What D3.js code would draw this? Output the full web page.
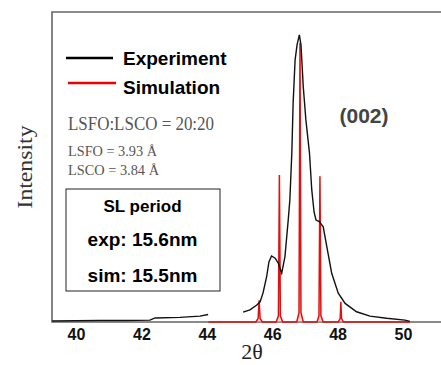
<!DOCTYPE html>
<html>
<head>
<meta charset="utf-8">
<script src="https://cdn.jsdelivr.net/npm/d3@7"></script>
<style>
  body { margin: 0; background: #fff; }
  svg { display: block; }
</style>
</head>
<body>
<div id="chart"></div>
<script>
// experiment curve, two segments (gap between 44 and 45)
var expX1 = [39.27, 40.0, 40.73, 41.5, 42.26, 42.42, 43.18, 43.79, 44.04];
var expY1 = [0.003, 0.004, 0.005, 0.005, 0.006, 0.013, 0.015, 0.019, 0.024];
var expX2 = [45.11, 45.32, 45.53, 45.63, 45.72, 45.83, 45.90, 45.98, 46.09, 46.19, 46.29, 46.39, 46.49, 46.54, 46.60, 46.64, 46.70, 46.76, 46.83, 46.88, 46.95, 47.03, 47.14, 47.21, 47.28, 47.34, 47.44, 47.56, 47.67, 47.82, 48.02, 48.23, 48.58, 48.99, 49.50, 50.06, 50.21];
var expY2 = [0.032, 0.039, 0.055, 0.065, 0.094, 0.146, 0.194, 0.213, 0.206, 0.189, 0.157, 0.211, 0.329, 0.394, 0.545, 0.706, 0.845, 0.894, 0.926, 0.894, 0.759, 0.652, 0.545, 0.426, 0.355, 0.329, 0.324, 0.307, 0.243, 0.157, 0.093, 0.060, 0.033, 0.019, 0.012, 0.006, 0.002];

// simulation peaks
var simX = [44.05, 45.50, 45.57, 45.60, 45.63, 45.70, 46.12, 46.19, 46.22, 46.25, 46.32, 46.75, 46.82, 46.85, 46.88, 46.95, 47.37, 47.43, 47.46, 47.49, 47.56, 48.02, 48.08, 48.10, 48.12, 48.18, 50.2];
var simY = [0, 0, 0.012, 0.07, 0.012, 0, 0, 0.02, 0.474, 0.02, 0, 0, 0.03, 0.90, 0.03, 0, 0, 0.02, 0.47, 0.02, 0, 0, 0.012, 0.065, 0.012, 0, 0];

var xTicks = [40, 42, 44, 46, 48, 50];

var width = 441, height = 365;
var plot = { left: 52, top: 12, bottom: 322, right: 441 };

var svg = d3.select("#chart").append("svg")
    .attr("width", width)
    .attr("height", height);

var x = d3.scaleLinear().domain([40, 50]).range([76, 403]);
var y = d3.scaleLinear().domain([0, 1]).range([plot.bottom, plot.top]);

var line = d3.line()
    .x(function (d) { return x(d[0]); })
    .y(function (d) { return y(d[1]); });

// frame
svg.append("path")
    .attr("d", "M" + plot.right + "," + plot.top + "H" + plot.left + "V" + plot.bottom + "H" + plot.right)
    .attr("fill", "none")
    .attr("stroke", "#666")
    .attr("stroke-width", 1.6);

var seg1 = expX1.map(function (v, i) { return [v, expY1[i]]; });
var seg2 = expX2.map(function (v, i) { return [v, expY2[i]]; });
var sim = simX.map(function (v, i) { return [v, simY[i]]; });

svg.append("path")
    .datum(sim)
    .attr("d", line)
    .attr("fill", "#f3b0b0")
    .attr("fill-opacity", 0.5)
    .attr("stroke", "#e01010")
    .attr("stroke-width", 1.5);

[seg1, seg2].forEach(function (s) {
    svg.append("path")
        .datum(s)
        .attr("d", line)
        .attr("fill", "none")
        .attr("stroke", "#111")
        .attr("stroke-width", 1.4);
});

// x axis labels
var axis = svg.append("g")
    .attr("transform", "translate(0," + plot.bottom + ")")
    .call(d3.axisBottom(x).tickValues(xTicks).tickSize(0).tickPadding(7));
axis.select(".domain").remove();
axis.selectAll("text")
    .attr("font-family", "Liberation Sans, Arial, sans-serif")
    .attr("font-weight", "bold")
    .attr("font-size", 16)
    .attr("fill", "#111");

svg.append("text")
    .attr("x", 252).attr("y", 359)
    .attr("text-anchor", "middle")
    .attr("font-family", "Liberation Serif, Times New Roman, serif")
    .attr("font-size", 22)
    .attr("fill", "#222")
    .text("2θ");

svg.append("text")
    .attr("transform", "translate(32,167) rotate(-90)")
    .attr("text-anchor", "middle")
    .attr("font-family", "Liberation Serif, Times New Roman, serif")
    .attr("font-size", 22)
    .attr("textLength", 83)
    .attr("lengthAdjust", "spacingAndGlyphs")
    .attr("fill", "#333")
    .text("Intensity");

// legend
var legend = [
    { name: "Experiment", color: "#000", y: 58, ty: 65, x0: 66, x1: 113 },
    { name: "Simulation", color: "#ee0000", y: 83, ty: 94, x0: 68, x1: 116 }
];
legend.forEach(function (d) {
    svg.append("line")
        .attr("x1", d.x0).attr("x2", d.x1)
        .attr("y1", d.y).attr("y2", d.y)
        .attr("stroke", d.color)
        .attr("stroke-width", 2.5);
    svg.append("text")
        .attr("x", 123).attr("y", d.ty)
        .attr("font-family", "Liberation Sans, Arial, sans-serif")
        .attr("font-weight", "bold")
        .attr("font-size", 19)
        .attr("fill", "#000")
        .text(d.name);
});

// annotation text
var notes = [
    { t: "LSFO:LSCO = 20:20", y: 130, size: 18, len: 146 },
    { t: "LSFO = 3.93 Å", y: 155.7, size: 15, len: 89 },
    { t: "LSCO = 3.84 Å", y: 175, size: 15, len: 91 }
];
notes.forEach(function (d) {
    svg.append("text")
        .attr("x", 68).attr("y", d.y)
        .attr("font-family", "Liberation Serif, Times New Roman, serif")
        .attr("font-size", d.size)
        .attr("textLength", d.len)
        .attr("lengthAdjust", "spacingAndGlyphs")
        .attr("fill", "#555")
        .text(d.t);
});

svg.append("text")
    .attr("x", 364).attr("y", 123)
    .attr("text-anchor", "middle")
    .attr("font-family", "Liberation Sans, Arial, sans-serif")
    .attr("font-weight", "bold")
    .attr("font-size", 21)
    .attr("fill", "#444")
    .text("(002)");

// SL period box
svg.append("rect")
    .attr("x", 66).attr("y", 189)
    .attr("width", 154).attr("height", 102)
    .attr("fill", "#fff")
    .attr("stroke", "#222")
    .attr("stroke-width", 1);

var boxLines = [
    { t: "SL period", y: 211.7, size: 17 },
    { t: "exp: 15.6nm", y: 246, size: 19 },
    { t: "sim: 15.5nm", y: 281.7, size: 19 }
];
boxLines.forEach(function (d) {
    svg.append("text")
        .attr("x", 142.5).attr("y", d.y)
        .attr("text-anchor", "middle")
        .attr("font-family", "Liberation Sans, Arial, sans-serif")
        .attr("font-weight", "bold")
        .attr("font-size", d.size)
        .attr("fill", "#000")
        .text(d.t);
});
</script>
</body>
</html>
